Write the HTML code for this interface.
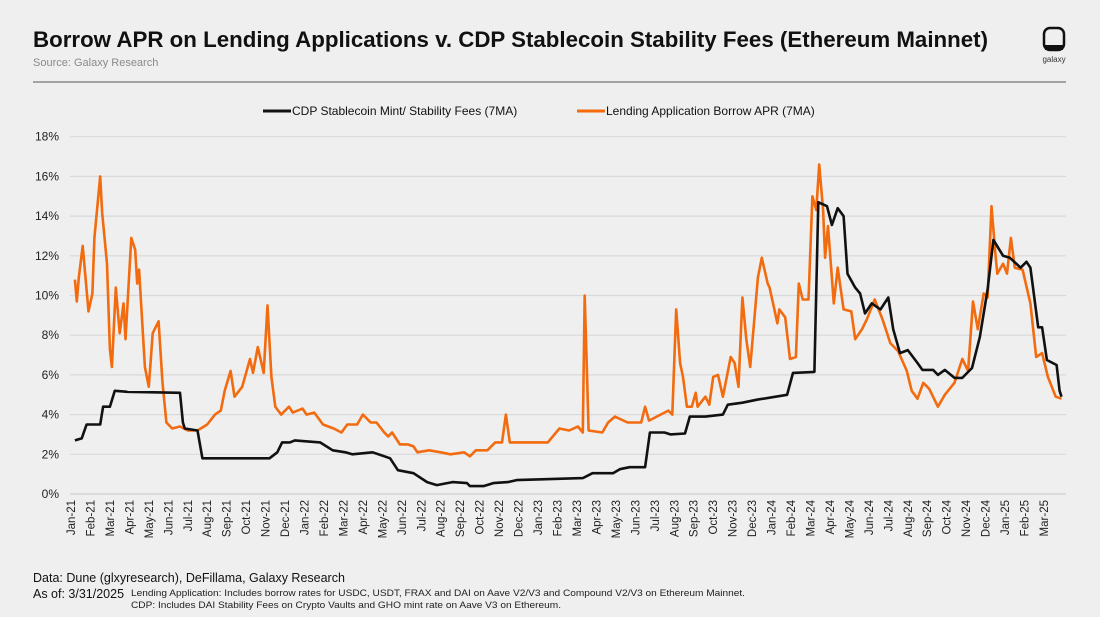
<!DOCTYPE html>
<html><head><meta charset="utf-8">
<style>
body{margin:0;background:#efefef;font-family:"Liberation Sans",sans-serif;}
#wrap{position:relative;width:1100px;height:617px;overflow:hidden;background:#efefef;}
</style></head>
<body>
<div id="wrap">
<svg id="chart" width="1100" height="617" xmlns="http://www.w3.org/2000/svg">
<text x="33" y="47" font-size="22" font-weight="bold" fill="#111" textLength="955" lengthAdjust="spacingAndGlyphs">Borrow APR on Lending Applications v. CDP Stablecoin Stability Fees (Ethereum Mainnet)</text>
<text x="33" y="66" font-size="11" fill="#8a8a8a">Source: Galaxy Research</text>
<g>
<rect x="1044" y="28" width="20" height="22" rx="6" fill="none" stroke="#111" stroke-width="2.5"/>
<rect x="1045" y="45" width="18" height="5" fill="#111"/>
<text x="1054" y="62" font-size="8" fill="#333" text-anchor="middle">galaxy</text>
</g>
<line x1="33" y1="82" x2="1066" y2="82" stroke="#777" stroke-width="1.2"/>
<g>
<g><line x1="263" y1="111" x2="291" y2="111" stroke="#111" stroke-width="3"/><text x="292" y="115" font-size="12" fill="#111">CDP Stablecoin Mint/ Stability Fees (7MA)</text></g>
<g><line x1="577" y1="111" x2="605" y2="111" stroke="#f26b0f" stroke-width="3"/><text x="606" y="115" font-size="12" fill="#111">Lending Application Borrow APR (7MA)</text></g>
</g>
<g id="grid"></g><g id="yticks"></g><g id="xticks"></g><g id="series"></g>
<text x="33" y="582" font-size="12.5" fill="#111">Data: Dune (glxyresearch), DeFillama, Galaxy Research</text>
<text x="33" y="598" font-size="12.5" fill="#111">As of: 3/31/2025</text>
<text x="131" y="596" font-size="9.5" fill="#222" textLength="614" lengthAdjust="spacingAndGlyphs">Lending Application: Includes borrow rates for USDC, USDT, FRAX and DAI on Aave V2/V3 and Compound V2/V3 on Ethereum Mainnet.</text>
<text x="131" y="608" font-size="9.5" fill="#222" textLength="430" lengthAdjust="spacingAndGlyphs">CDP: Includes DAI Stability Fees on Crypto Vaults and GHO mint rate on Aave V3 on Ethereum.</text>
</svg>
</div>
<script>
const monthLabels=["Jan-21","Feb-21","Mar-21","Apr-21","May-21","Jun-21","Jul-21","Aug-21","Sep-21","Oct-21","Nov-21","Dec-21","Jan-22","Feb-22","Mar-22","Apr-22","May-22","Jun-22","Jul-22","Aug-22","Sep-22","Oct-22","Nov-22","Dec-22","Jan-23","Feb-23","Mar-23","Apr-23","May-23","Jun-23","Jul-23","Aug-23","Sep-23","Oct-23","Nov-23","Dec-23","Jan-24","Feb-24","Mar-24","Apr-24","May-24","Jun-24","Jul-24","Aug-24","Sep-24","Oct-24","Nov-24","Dec-24","Jan-25","Feb-25","Mar-25"];
const yTicks=[0,2,4,6,8,10,12,14,16,18];
// months since Jan-2021
const lendDates=[0.2,0.3,0.4,0.6,0.9,1.1,1.2,1.5,1.6,1.85,2.0,2.1,2.3,2.5,2.7,2.8,3.1,3.3,3.4,3.5,3.8,4.0,4.2,4.5,4.7,4.9,5.2,5.6,6.0,6.5,7.0,7.4,7.7,7.9,8.2,8.4,8.8,9.2,9.35,9.6,9.9,10.1,10.3,10.5,10.8,11.2,11.4,11.9,12.1,12.5,12.95,13.5,13.9,14.2,14.7,15.0,15.4,15.7,16.1,16.3,16.5,16.9,17.3,17.6,17.8,18.4,19.0,19.5,20.2,20.5,20.8,21.4,21.8,22.15,22.35,22.55,23.4,24.5,25.1,25.6,26.05,26.3,26.4,26.5,26.6,27.3,27.6,27.95,28.6,29.3,29.5,29.7,30.3,30.7,30.9,31.1,31.3,31.45,31.65,31.9,32.1,32.2,32.6,32.8,33.0,33.25,33.5,33.9,34.1,34.3,34.5,34.7,34.9,35.1,35.3,35.5,35.8,35.9,36.3,36.4,36.7,36.95,37.25,37.4,37.6,37.9,38.1,38.3,38.45,38.65,38.75,38.9,39.2,39.4,39.7,40.1,40.3,40.65,40.9,41.3,41.7,42.1,42.5,42.95,43.2,43.5,43.8,44.1,44.55,44.9,45.4,45.8,46.1,46.35,46.6,46.9,47.1,47.3,47.5,47.6,47.9,48.1,48.3,48.5,48.9,49.3,49.6,49.9,50.2,50.6,50.9];
const lendValues=[10.8,9.7,10.9,12.5,9.2,10.1,12.9,16.0,14.2,11.6,7.3,6.4,10.4,8.1,9.6,7.8,12.9,12.3,10.6,11.3,6.4,5.4,8.1,8.7,5.6,3.6,3.3,3.4,3.2,3.2,3.5,4.0,4.2,5.2,6.2,4.9,5.4,6.8,6.1,7.4,6.1,9.5,5.9,4.4,4.0,4.4,4.1,4.3,4.0,4.1,3.5,3.3,3.1,3.5,3.5,4.0,3.6,3.6,3.1,2.9,3.1,2.5,2.5,2.4,2.1,2.2,2.1,2.0,2.1,1.9,2.2,2.2,2.6,2.6,4.0,2.6,2.6,2.6,3.3,3.2,3.4,3.1,10.0,6.6,3.2,3.1,3.6,3.9,3.6,3.6,4.4,3.7,4.0,4.2,4.0,9.3,6.6,5.9,4.4,4.4,5.1,4.4,4.9,4.5,5.9,6.0,4.9,6.9,6.6,5.4,9.9,7.8,6.4,8.6,10.9,11.9,10.6,10.4,8.6,9.3,8.9,6.8,6.9,10.6,9.8,9.8,15.0,14.3,16.6,14.3,11.9,13.5,9.6,11.4,9.3,9.2,7.8,8.3,8.8,9.8,8.8,7.6,7.2,6.2,5.2,4.8,5.6,5.3,4.4,5.0,5.6,6.8,6.2,9.7,8.3,10.1,9.9,14.5,12.1,11.1,11.6,11.1,12.9,11.4,11.3,9.6,6.9,7.1,5.9,4.9,4.8];
const cdpDates=[0.2,0.55,0.8,1.5,1.65,2.0,2.25,2.9,5.6,5.75,5.85,6.5,6.75,10.2,10.6,10.85,11.25,11.5,12.8,13.45,14.1,14.45,15.5,16.4,16.8,17.6,18.3,18.8,19.6,20.35,20.5,21.2,21.7,22.45,22.9,24.6,26.3,26.8,27.85,28.2,28.7,29.5,29.75,30.5,30.8,31.55,31.8,32.6,33.5,33.75,34.5,35.25,36.8,37.1,38.2,38.4,38.85,39.1,39.4,39.7,39.9,40.3,40.55,40.8,41.15,41.6,42.0,42.25,42.6,43.0,43.5,43.75,44.3,44.55,44.9,45.4,45.8,46.3,46.7,47.1,47.4,47.9,48.25,48.8,49.1,49.3,49.7,49.9,50.15,50.65,50.8,50.9];
const cdpValues=[2.7,2.8,3.5,3.5,4.4,4.4,5.2,5.15,5.1,3.6,3.3,3.2,1.8,1.8,2.1,2.6,2.6,2.7,2.6,2.2,2.1,2.0,2.1,1.8,1.2,1.05,0.6,0.45,0.6,0.55,0.4,0.4,0.55,0.6,0.7,0.75,0.8,1.05,1.05,1.25,1.35,1.35,3.1,3.1,3.0,3.05,3.9,3.9,4.0,4.5,4.6,4.75,5.0,6.1,6.15,14.7,14.5,13.55,14.4,14.0,11.1,10.4,10.1,9.1,9.6,9.3,9.9,8.3,7.1,7.25,6.6,6.25,6.25,6.0,6.25,5.85,5.85,6.35,7.9,10.3,12.8,12.0,11.9,11.4,11.7,11.4,8.4,8.4,6.75,6.5,5.2,4.9];

const NS="http://www.w3.org/2000/svg";
const X0=71,MW=19.46,Y0=494,UNIT=19.85;
function xScale(m){return X0+m*MW;}
function yScale(v){return Y0-v*UNIT;}
function mk(tag,attrs,parent){const e=document.createElementNS(NS,tag);for(const k in attrs)e.setAttribute(k,attrs[k]);parent.appendChild(e);return e;}
const grid=document.getElementById('grid'),yt=document.getElementById('yticks'),xt=document.getElementById('xticks'),ser=document.getElementById('series');
yTicks.forEach(v=>{
  const l=mk('line',{x1:70,x2:1066,y1:yScale(v),y2:yScale(v),stroke:v===0?'#cfcfcf':'#d9d9d9','stroke-width':1.2},grid);
  
  
  const t=mk('text',{x:59,y:yScale(v)+4,'font-size':12,'text-anchor':'end',fill:'#222'},yt);
  t.textContent=v+'%';
  
  
});
monthLabels.forEach((lab,i)=>{
  const x=xScale(i)+4;
  const t=mk('text',{x:x,y:500,'font-size':11.5,'text-anchor':'end',fill:'#222',transform:'rotate(-90 '+x+' 500)'},xt);
  t.textContent=lab;
  
  
});
function path(dates,vals){return dates.map((d,i)=>(i?'L':'M')+xScale(d).toFixed(1)+','+yScale(vals[i]).toFixed(1)).join(' ');}
const pl=mk('path',{d:path(lendDates,lendValues),fill:'none',stroke:'#f26b0f','stroke-width':2.6,'stroke-linejoin':'round'},ser);


const pc=mk('path',{d:path(cdpDates,cdpValues),fill:'none',stroke:'#111','stroke-width':2.6,'stroke-linejoin':'round'},ser);


</script>
</body></html>
